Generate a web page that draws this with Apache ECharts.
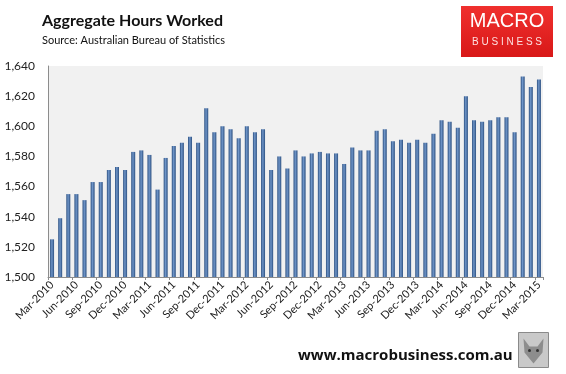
<!DOCTYPE html>
<html>
<head>
<meta charset="utf-8">
<script src="https://cdn.jsdelivr.net/npm/echarts@6/dist/echarts.min.js"></script>
<style>
html,body{margin:0;padding:0;background:#fff;}
#c{width:566px;height:374px;}
</style>
</head>
<body>
<div id="c"></div>
<script>
const months = ['Mar','Apr','May','Jun','Jul','Aug','Sep','Oct','Nov','Dec','Jan','Feb'];
const categories = [];
(function(){
  let y = 2010;
  for (let i = 0; i < 61; i++) {
    const m = months[i % 12];
    if (m === 'Jan' && i > 0) y++;
    categories.push(m + '-' + y);
  }
})();
const hoursWorked = [
  1525, 1539, 1555, 1555, 1551, 1563, 1563, 1571, 1573, 1571,
  1583, 1584, 1581, 1558, 1579, 1587, 1589, 1593, 1589, 1612,
  1596, 1600, 1598, 1592, 1600, 1596, 1598, 1571, 1580, 1572,
  1584, 1580, 1582, 1583, 1582, 1582, 1575, 1586, 1584, 1584,
  1597, 1598, 1590, 1591, 1589, 1591, 1589, 1595, 1604, 1603,
  1599, 1620, 1604, 1603, 1604, 1606, 1606, 1596, 1633, 1626,
  1631
];
const yTicks = [1500, 1520, 1540, 1560, 1580, 1600, 1620, 1640];

const chart = echarts.init(document.getElementById('c'), null, {renderer: 'canvas'});
const font = 'Lato, Noto Sans, sans-serif';
chart.setOption({
  animation: false,
  backgroundColor: '#ffffff',
  title: {
    text: 'Aggregate Hours Worked',
    subtext: 'Source: Australian Bureau of Statistics',
    left: 37, top: 8,
    itemGap: 6,
    textStyle: {fontFamily: font, fontWeight: 'bold', fontSize: 16, color: '#111'},
    subtextStyle: {fontFamily: font, fontSize: 11, color: '#111'}
  },
  grid: {
    left: 48, right: 23, top: 66, bottom: 97,
    show: true, backgroundColor: '#f1f1f1', borderWidth: 0,
    containLabel: false
  },
  xAxis: {
    type: 'category',
    data: categories,
    boundaryGap: true,
    axisLine: {lineStyle: {color: '#8c8c8c', width: 1}},
    axisTick: {show: true, interval: 2, length: 3, lineStyle: {color: '#8c8c8c'}},
    axisLabel: {
      interval: 2, rotate: 45, fontFamily: font, fontSize: 11, color: '#222', margin: 6
    }
  },
  yAxis: {
    type: 'value',
    min: yTicks[0], max: yTicks[yTicks.length - 1], interval: 20,
    axisLine: {show: true, lineStyle: {color: '#8c8c8c', width: 1}},
    axisTick: {show: false},
    splitLine: {show: false},
    axisLabel: {
      fontFamily: font, fontSize: 12, color: '#222', margin: 13,
      formatter: v => v.toLocaleString('en-US')
    }
  },
  series: [{
    type: 'bar',
    data: hoursWorked,
    barWidth: 4,
    itemStyle: {
      color: new echarts.graphic.LinearGradient(0, 0, 1, 0, [
        {offset: 0, color: '#2b4f80'},
        {offset: 0.45, color: '#6f95c8'},
        {offset: 1, color: '#2b4f80'}
      ])
    }
  }],
  graphic: [
    {
      type: 'group', left: 461, top: 6,
      children: [
        {type: 'rect', shape: {x: 0, y: 0, width: 92, height: 51},
         style: {fill: new echarts.graphic.LinearGradient(0, 0, 0, 1, [
           {offset: 0, color: '#f0302e'}, {offset: 1, color: '#d81818'}])}},
        {type: 'text', x: 46, y: 15, style: {text: 'MACRO', fill: '#fff', font: '20px Liberation Sans, Arial, sans-serif', textAlign: 'center', textVerticalAlign: 'middle'}},
        {type: 'text', x: 46, y: 36, style: {text: 'B U S I N E S S', fill: '#fde0e0', font: '10px Liberation Sans, Arial, sans-serif', textAlign: 'center', textVerticalAlign: 'middle'}}
      ]
    },
    {
      type: 'text', left: 298, top: 348,
      style: {text: 'www.macrobusiness.com.au', fill: '#111', font: 'bold 15px Open Sans, sans-serif'}
    },
    {
      type: 'group', left: 518, top: 332,
      children: [
        {type: 'rect', shape: {x: 0, y: 0, width: 30, height: 35},
         style: {fill: '#c9c9c9', stroke: '#8a8a8a', lineWidth: 1}},
        {type: 'polygon', shape: {points: [[5,6],[11,14],[19,14],[25,6],[24,20],[15,31],[6,20]]},
         style: {fill: '#8d8d8d'}},
        {type: 'circle', shape: {cx: 11, cy: 18, r: 1.5}, style: {fill: '#333'}},
        {type: 'circle', shape: {cx: 19, cy: 18, r: 1.5}, style: {fill: '#333'}}
      ]
    }
  ]
});
</script>
</body>
</html>
